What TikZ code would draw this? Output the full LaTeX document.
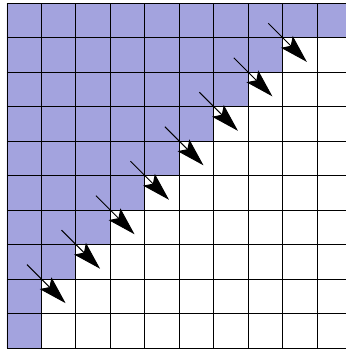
\documentclass[tikz,border=0pt]{standalone}
\usepackage{tikz}
\usetikzlibrary{arrows.meta}
\definecolor{lila}{HTML}{A3A3DE}
\tikzset{
  gridline/.style={draw=black,line width=0.8pt},
  zona/.style={fill=lila,draw=none},
  arrow/.style={-{Stealth[length=8.2mm,width=4.8mm,inset=1.6mm]},line width=0.8pt,draw=black}
}
\begin{document}
\begin{tikzpicture}[x=1cm,y=1cm]
\clip (-0.203,-0.029) rectangle (9.835,10.096);

\fill[zona] (0,0) -- (0,10) -- (10,10) -- (10,9) -- (8,9) -- (8,8) -- (7,8) -- (7,7)
  -- (6,7) -- (6,6) -- (5,6) -- (5,5) -- (4,5) -- (4,4) -- (3,4) -- (3,3)
  -- (2,3) -- (2,2) -- (1,2) -- (1,0) -- cycle;
\draw[gridline] (0,0) grid (10,10);

\coordinate (s1) at (7.58,9.42);  \coordinate (t1) at (8.7,8.3);
\coordinate (s2) at (6.58,8.42);  \coordinate (t2) at (7.7,7.3);
\coordinate (s3) at (5.58,7.42);  \coordinate (t3) at (6.7,6.3);
\coordinate (s4) at (4.58,6.42);  \coordinate (t4) at (5.7,5.3);
\coordinate (s5) at (3.58,5.42);  \coordinate (t5) at (4.7,4.3);
\coordinate (s6) at (2.58,4.42);  \coordinate (t6) at (3.7,3.3);
\coordinate (s7) at (1.58,3.42);  \coordinate (t7) at (2.7,2.3);
\coordinate (s8) at (0.58,2.42);  \coordinate (t8) at (1.7,1.3);

\draw[arrow] (s1)--(t1);
\draw[arrow] (s2)--(t2);
\draw[arrow] (s3)--(t3);
\draw[arrow] (s4)--(t4);
\draw[arrow] (s5)--(t5);
\draw[arrow] (s6)--(t6);
\draw[arrow] (s7)--(t7);
\draw[arrow] (s8)--(t8);
\end{tikzpicture}
\end{document}
